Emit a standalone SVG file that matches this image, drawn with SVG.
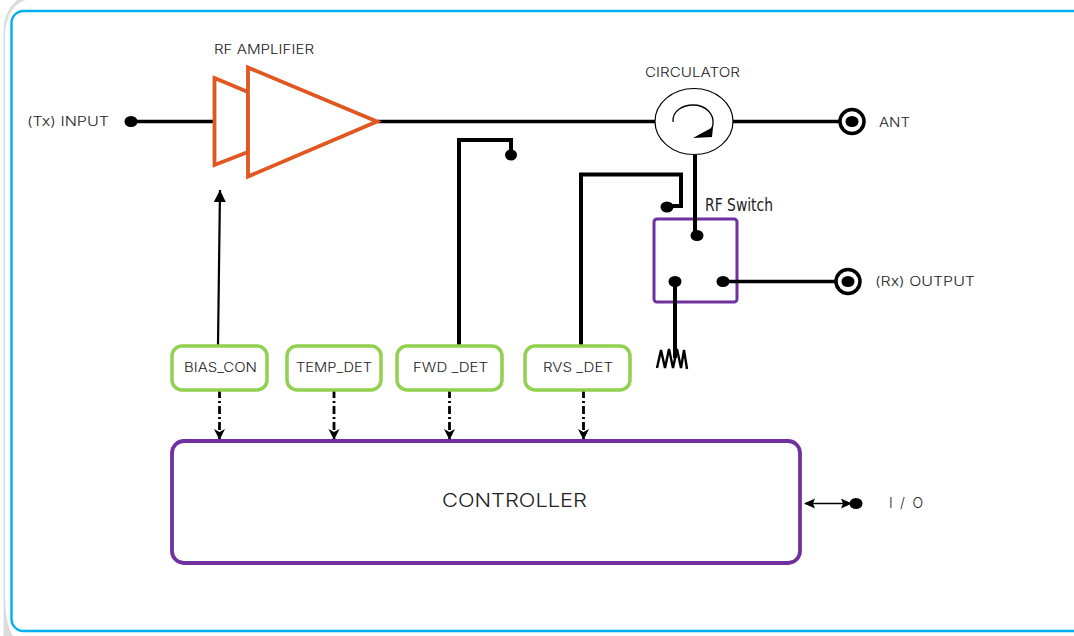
<svg xmlns="http://www.w3.org/2000/svg" width="1074" height="636" viewBox="0 0 1074 636">
<style>
text{font-family:"Inter","Liberation Sans",Arial,sans-serif;font-size:13px;font-weight:300;fill:#222;text-anchor:start}
.w{fill:none;stroke:#000;stroke-width:3.300}
.t{fill:none;stroke:#000;stroke-width:4}
.d{fill:#000}
.dash{fill:none;stroke:#000;stroke-width:2.800;stroke-dasharray:8 3 2 3}
.g{fill:#fff;stroke:#92d050;stroke-width:3.500}
.o{fill:#fff;stroke:#e2571f;stroke-width:3.800}
</style>
<defs>
<marker id="ah" markerWidth="12" markerHeight="12" refX="10" refY="5" orient="auto-start-reverse" markerUnits="userSpaceOnUse"><path d="M0 0L11 5L0 10L2 5Z" fill="#000"/></marker>
<marker id="ah2" markerWidth="14" markerHeight="14" refX="12" refY="6" orient="auto" markerUnits="userSpaceOnUse"><path d="M0 0L12 6L0 12Z" fill="#000"/></marker>
<marker id="ah3" markerWidth="14" markerHeight="14" refX="11" refY="5.500" orient="auto" markerUnits="userSpaceOnUse"><path d="M0 0L11 5.500L0 11L3 5.500Z" fill="#000"/></marker>
</defs>
<rect width="1074" height="636" fill="#fff"/>
<path id="shade" d="M3.500 636V28Q5 10 17 0H26Q9 5 5 30V600Q6 625 13 636Z" fill="#dcdcdc"/>
<rect id="frame" x="11.500" y="11" width="1100" height="620" rx="12" fill="#fff" stroke="#00b0f0" stroke-width="2.400"/>
<g id="rf-switch">
<rect x="654" y="219" width="83" height="83" rx="3" fill="#fff" stroke="#7030a0" stroke-width="3"/>
<ellipse class="d" cx="697" cy="235.500" rx="6.500" ry="5.500"/><ellipse class="d" cx="675" cy="281.500" rx="6.500" ry="5.500"/><ellipse class="d" cx="723" cy="281.500" rx="6.500" ry="5.500"/>
<text x="705" y="211" style="font-family:'DejaVu Sans',sans-serif;font-size:17px;font-weight:400;fill:#222" textLength="68" lengthAdjust="spacingAndGlyphs">RF Switch</text>
</g>
<g id="connectors">
<path class="w" d="M131 121.500H214M377 121.500H655M733 121.500H840"/>
<path class="t" d="M459 345V140H511V155"/>
<path class="t" d="M581 346V174.500H681V206H668"/>
<path class="t" d="M695 155V235"/>
<path class="w" d="M723 281.500H836"/>
<path class="t" d="M675 282V358"/>
<path fill="none" stroke="#000" stroke-width="2.400" d="M657 368L661 350L665 368L669 349L673 368L677 349L681 368L684 350L687 369"/>
<path fill="none" stroke="#000" stroke-width="2.200" d="M218 345L220 190" marker-end="url(#ah2)"/>
<path class="dash" d="M219.500 390V440" marker-end="url(#ah3)"/>
<path class="dash" d="M334 390V440" marker-end="url(#ah3)"/>
<path class="dash" d="M449.500 390V440" marker-end="url(#ah3)"/>
<path class="dash" d="M583.500 390V440" marker-end="url(#ah3)"/>
<path fill="none" stroke="#000" stroke-width="1.500" d="M805 503.500H851" marker-start="url(#ah)" marker-end="url(#ah)"/>
</g>
<g id="rf-amplifier">
<path class="o" d="M214.500 78L248 92V152L214.500 165Z"/>
<path class="o" d="M248 67.500L377 121.500L248 176.500Z"/>
<text x="214" y="54" textLength="100" lengthAdjust="spacingAndGlyphs">RF AMPLIFIER</text>
</g>
<g id="input"><ellipse class="d" cx="131" cy="121.500" rx="6.500" ry="5.500"/><text x="27" y="126" textLength="82" lengthAdjust="spacingAndGlyphs">(Tx) INPUT</text></g>
<g id="circulator">
<ellipse cx="694" cy="121.500" rx="39" ry="33" fill="#fff" stroke="#000" stroke-width="1.200"/>
<path fill="none" stroke="#000" stroke-width="1.300" d="M673 122C672 110 684 105 693 105C706 105 714 114 713 124C713 126 712 128 711 130"/>
<path class="d" d="M693 138L713 127L712 137Z"/>
<text x="645" y="77" textLength="95" lengthAdjust="spacingAndGlyphs">CIRCULATOR</text>
</g>
<g id="ant"><circle cx="852" cy="121.500" r="12" fill="#fff" stroke="#000" stroke-width="3.500"/><ellipse class="d" cx="852" cy="121.500" rx="6.500" ry="5.500"/><text x="879" y="127" textLength="31" lengthAdjust="spacingAndGlyphs">ANT</text></g>
<g id="fwd-tap"><ellipse class="d" cx="511" cy="155" rx="6" ry="5.500"/></g>
<g id="rvs-tap"><ellipse class="d" cx="667" cy="207" rx="6.500" ry="5.500"/></g>
<g id="rx-output"><circle cx="848" cy="281.500" r="12" fill="#fff" stroke="#000" stroke-width="3.500"/><ellipse class="d" cx="848" cy="281.500" rx="6.500" ry="5.500"/><text x="875" y="286" textLength="100" lengthAdjust="spacingAndGlyphs">(Rx) OUTPUT</text></g>
<g id="bias-con"><rect class="g" x="172" y="346" width="95" height="44" rx="10"/><text x="184" y="372" textLength="73" lengthAdjust="spacingAndGlyphs">BIAS_CON</text></g>
<g id="temp-det"><rect class="g" x="287" y="346" width="94" height="44" rx="10"/><text x="296" y="372" textLength="76" lengthAdjust="spacingAndGlyphs">TEMP_DET</text></g>
<g id="fwd-det"><rect class="g" x="397" y="346" width="105" height="44" rx="10"/><text x="413" y="372" textLength="75" lengthAdjust="spacingAndGlyphs">FWD _DET</text></g>
<g id="rvs-det"><rect class="g" x="525" y="346" width="105" height="44" rx="10"/><text x="543" y="372" textLength="70" lengthAdjust="spacingAndGlyphs">RVS _DET</text></g>
<g id="controller"><rect x="172" y="441" width="628" height="122" rx="12" fill="#fff" stroke="#7030a0" stroke-width="3.800"/><text x="442" y="507" style="font-size:19px" textLength="145" lengthAdjust="spacingAndGlyphs">CONTROLLER</text></g>
<g id="io"><ellipse class="d" cx="856" cy="503.500" rx="6.500" ry="5.500"/><text x="889" y="508" style="font-size:14px" textLength="34" lengthAdjust="spacing">I / O</text></g>
</svg>
